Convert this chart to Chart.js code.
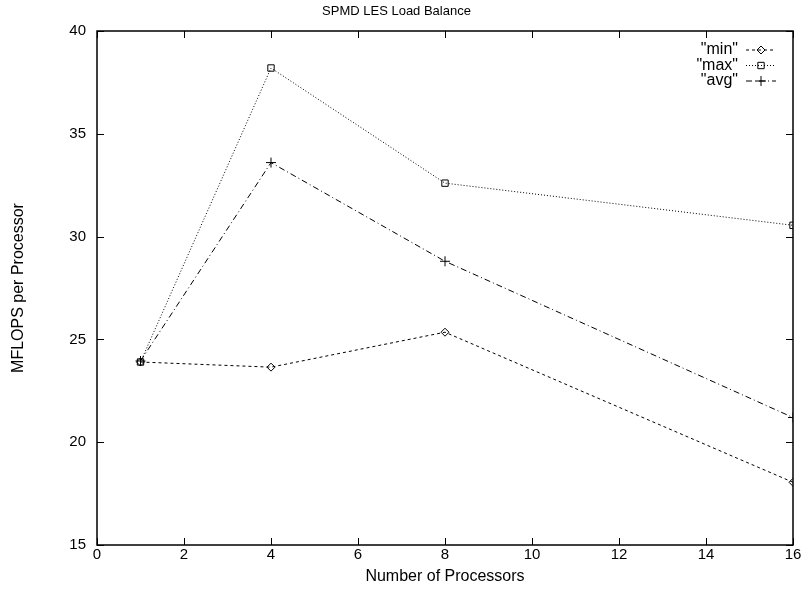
<!DOCTYPE html>
<html>
<head>
<meta charset="utf-8">
<script src="https://cdn.jsdelivr.net/npm/chart.js@4/dist/chart.umd.min.js"></script>
<style>
  html, body { margin: 0; padding: 0; background: #fff; }
  #wrap { width: 804px; height: 591px; }
</style>
</head>
<body>
<div id="wrap"><canvas id="grafico_balanco"></canvas></div>
<script>
// dados
const processadores = [1, 4, 8, 16];
const valoresMin = [23.9, 23.65, 25.35, 18.05];
const valoresMax = [23.9, 38.2, 32.6, 30.55];
const valoresAvg = [23.95, 33.6, 28.8, 21.2];
const ticksX = [0, 2, 4, 6, 8, 10, 12, 14, 16];
const ticksY = [15, 20, 25, 30, 35, 40];
const nomesSeries = ['"min"', '"max"', '"avg"'];

const fonte = 'Liberation Sans, Arial, sans-serif';

function pontos(valores) {
    return processadores.map((p, i) => ({ x: p, y: valores[i] }));
}

// moldura + ticks para dentro, estilo gnuplot
const molduraPlugin = {
    id: 'moldura',
    afterDraw(chart) {
        const { ctx, chartArea: a, scales } = chart;
        ctx.save();
        ctx.strokeStyle = '#000';
        ctx.lineWidth = 1;
        ticksX.forEach(v => {
            const px = Math.round(scales.x.getPixelForValue(v)) + 0.5;
            ctx.beginPath();
            ctx.moveTo(px, a.bottom); ctx.lineTo(px, a.bottom - 7);
            ctx.moveTo(px, a.top); ctx.lineTo(px, a.top + 7);
            ctx.stroke();
        });
        ticksY.forEach(v => {
            const py = Math.round(scales.y.getPixelForValue(v)) + 0.5;
            ctx.beginPath();
            ctx.moveTo(a.left, py); ctx.lineTo(a.left + 7, py);
            ctx.moveTo(a.right, py); ctx.lineTo(a.right - 7, py);
            ctx.stroke();
        });
        ctx.lineWidth = 1.5;
        ctx.strokeRect(a.left, a.top, a.right - a.left, a.bottom - a.top);

        // legenda dentro da área do gráfico
        ctx.font = '16px ' + fonte;
        ctx.textAlign = 'right';
        ctx.textBaseline = 'middle';
        chart.data.datasets.forEach((ds, i) => {
            const y = 50 + i * 15.5;
            ctx.fillStyle = '#000';
            ctx.fillText(ds.label, 738, y);
            ctx.lineWidth = 1;
            ctx.setLineDash(ds.borderDash);
            ctx.beginPath();
            ctx.moveTo(746, y); ctx.lineTo(776, y);
            ctx.stroke();
            ctx.setLineDash([]);
            ctx.fillStyle = 'rgba(0,0,0,0)';
            Chart.helpers.drawPoint(ctx, {
                pointStyle: ds.pointStyle, radius: ds.pointRadius,
                borderWidth: 1, rotation: 0
            }, 761, y);
        });
        ctx.restore();
    }
};

function criarGraficoBalanco() {
    const ctx = document.getElementById('grafico_balanco').getContext('2d');

    const estilo = {
        borderColor: '#000',
        backgroundColor: 'rgba(0,0,0,0)',
        pointBorderColor: '#000',
        pointBackgroundColor: 'rgba(0,0,0,0)',
        borderWidth: 1,
        pointBorderWidth: 1,
        showLine: true,
        tension: 0
    };

    new Chart(ctx, {
        type: 'scatter',
        data: {
            datasets: [
                { ...estilo, label: nomesSeries[0], data: pontos(valoresMin),
                  borderDash: [3, 3], pointStyle: 'rectRot', pointRadius: 4 },
                { ...estilo, label: nomesSeries[1], data: pontos(valoresMax),
                  borderDash: [1, 2], pointStyle: 'rect', pointRadius: 4.5 },
                { ...estilo, label: nomesSeries[2], data: pontos(valoresAvg),
                  borderDash: [6, 3, 1, 3], pointStyle: 'cross', pointRadius: 5 }
            ]
        },
        options: {
            responsive: true,
            maintainAspectRatio: false,
            animation: false,
            layout: { padding: { left: 0, right: 11, top: 0, bottom: 0 } },
            plugins: {
                legend: { display: false },
                tooltip: { enabled: false },
                title: {
                    display: true,
                    text: 'SPMD LES Load Balance',
                    color: '#000',
                    font: { family: fonte, size: 13, weight: 'normal' },
                    padding: { top: 4, bottom: 11.4 }
                }
            },
            scales: {
                x: {
                    type: 'linear',
                    min: 0, max: 16,
                    afterBuildTicks: s => { s.ticks = ticksX.map(v => ({ value: v })); },
                    grid: { display: false, drawTicks: false, tickLength: 0 },
                    border: { display: false },
                    ticks: { color: '#000', font: { family: fonte, size: 15 }, padding: 1, maxRotation: 0 },
                    title: {
                        display: true, text: 'Number of Processors', color: '#000',
                        font: { family: fonte, size: 16 }, padding: { top: 0, bottom: 5 }
                    },
                    afterFit: s => { s.height = 46; }
                },
                y: {
                    min: 15, max: 40,
                    afterBuildTicks: s => { s.ticks = ticksY.map(v => ({ value: v })); },
                    grid: { display: false, drawTicks: false, tickLength: 0 },
                    border: { display: false },
                    ticks: { color: '#000', font: { family: fonte, size: 15 }, padding: 11 },
                    title: {
                        display: true, text: 'MFLOPS per Processor', color: '#000',
                        font: { family: fonte, size: 16 }, padding: { top: 9, bottom: 0 }
                    },
                    afterFit: s => { s.width = 97; }
                }
            }
        },
        plugins: [molduraPlugin]
    });
}

criarGraficoBalanco();
</script>
</body>
</html>
